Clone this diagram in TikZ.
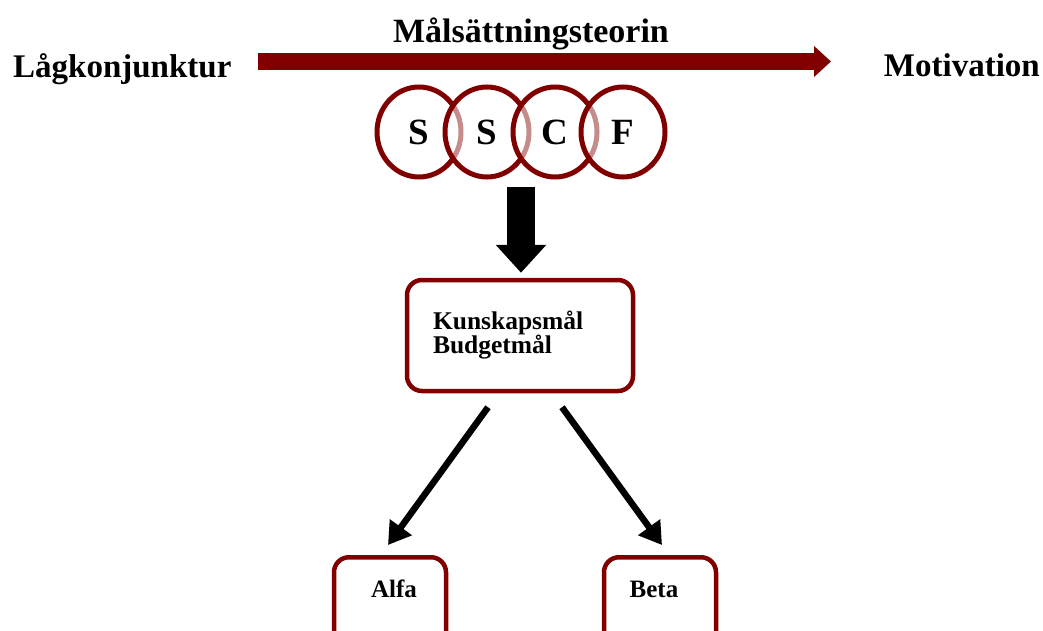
\documentclass[tikz,border=0pt]{standalone}
\usepackage{fontspec}
\setmainfont{Liberation Serif}
\usetikzlibrary{arrows.meta,shapes.geometric,calc}
\definecolor{dred}{RGB}{128,0,0}
\begin{document}
\begin{tikzpicture}[x=1pt,y=-1pt,
  ttl/.style={font=\fontsize{33}{38}\selectfont\bfseries, inner sep=0pt, anchor=base west},
  ring/.style={ellipse, draw=dred, line width=5pt, minimum width=84pt, minimum height=90pt, inner sep=0pt,
     fill=white, fill opacity=0.55, text opacity=1, font=\fontsize{37}{42}\selectfont\bfseries},
  goalbox/.style={draw=dred, line width=4.5pt, rounded corners=15pt},
  lbl/.style={font=\fontsize{25}{28}\selectfont\bfseries, inner sep=0pt, anchor=base},
  blackarr/.style={line width=6.5pt, -{Triangle[length=22pt,width=26pt]}}
]
\useasboundingbox (0,0) rectangle (1043,631);
\clip (0,0) rectangle (1043,631);

% top titles
\node[ttl, anchor=base, font=\fontsize{34}{38}\selectfont\bfseries] (teori) at (531,43) {Målsättningsteorin};
\node[ttl] (lag) at (13,78) {Lågkonjunktur};
\node[ttl, anchor=base east] (mot) at (1040,77) {Motivation};

% red arrow
\coordinate (rs) at (258,61.5);
\coordinate (re) at (831,61.5);
\draw[dred, line width=17pt, -{Triangle[length=17pt,width=30pt]}] (rs) -- (re);

% circles
\node[ring] (c1) at (419,132) {S};
\node[ring] (c2) at (487,132) {S};
\node[ring] (c3) at (555,132) {C};
\node[ring] (c4) at (623,132) {F};

% goal box
\node[goalbox, minimum width=226pt, minimum height=111pt, inner xsep=26pt,
      text width=174pt, align=left, font=\fontsize{25.5}{24}\selectfont\bfseries] (kun) at (520,335.5)
      {Kunskapsmål\\Budgetmål\\[14pt]};

% big down arrow
\coordinate (bs) at (521,187);
\draw[line width=28pt, -{Triangle[length=28pt,width=49pt]}]
  (bs) -- ([yshift=5pt]kun.north -| bs);

% bottom boxes
\node[goalbox, minimum width=112pt, minimum height=140pt, anchor=north] (alfabox) at (390,555) {};
\node[goalbox, minimum width=112pt, minimum height=140pt, anchor=north] (betabox) at (660,555) {};
\node[lbl] (alfa) at (394,597) {Alfa};
\node[lbl] (beta) at (654,597) {Beta};

% diagonal arrows
\draw[blackarr] ([xshift=-32pt,yshift=-14pt]kun.south) -- ([xshift=-2pt,yshift=10pt]alfabox.north);
\draw[blackarr] ([xshift=42pt,yshift=-14pt]kun.south) -- ([xshift=2pt,yshift=10pt]betabox.north);
\end{tikzpicture}
\end{document}
